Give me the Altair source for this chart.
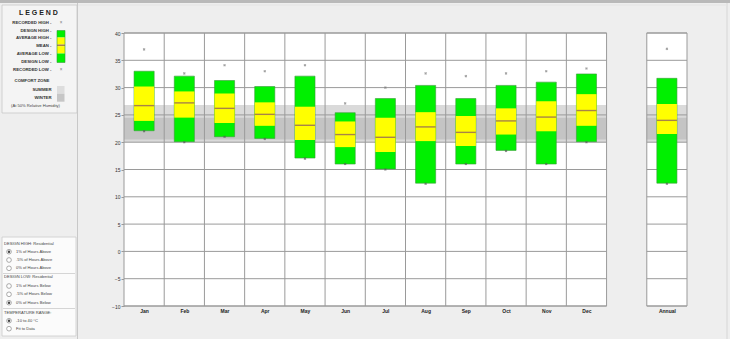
import json
import altair as alt
import pandas as pd

# ---------------- data ----------------
months = ["Jan", "Feb", "Mar", "Apr", "May", "Jun", "Jul", "Aug", "Sep", "Oct", "Nov", "Dec"]
recorded_high = [37.0, 32.6, 34.1, 33.0, 34.1, 27.1, 30.0, 32.6, 32.1, 32.6, 33.0, 33.5]
design_high = [33.0, 32.1, 31.3, 30.2, 32.1, 25.4, 28.0, 30.4, 28.0, 30.4, 31.0, 32.5]
average_high = [30.2, 29.3, 28.9, 27.3, 26.5, 23.8, 24.5, 25.5, 24.8, 26.2, 27.5, 28.8]
mean_temp = [26.7, 27.2, 26.2, 25.1, 23.1, 21.4, 20.9, 22.8, 21.8, 23.9, 24.6, 25.8]
average_low = [23.9, 24.5, 23.5, 23.0, 20.4, 19.1, 18.2, 20.2, 19.3, 21.4, 22.0, 23.0]
design_low = [22.1, 20.1, 21.0, 20.7, 17.1, 16.0, 15.1, 12.5, 16.0, 18.5, 16.0, 20.1]
recorded_low = [22.0, 20.0, 21.0, 20.6, 17.0, 16.0, 15.0, 12.4, 16.0, 18.4, 16.0, 20.0]

annual_label = "Annual"
annual = {"rh": 37.1, "dh": 31.7, "ah": 27.0, "m": 24.0, "al": 21.5, "dl": 12.5, "rl": 12.4}

summer_zone = [20.0, 26.8]
winter_zone = [20.5, 24.5]
y_ticks = [-10, -5, 0, 5, 10, 15, 20, 25, 30, 35, 40]

# ---------------- layout ----------------
L, T = 124, 33          # plot origin in the window
W, H = 563, 273
NCOL = 14               # 12 months, a gap, the annual column
ANN = 13
FONT = "Liberation Sans"
GRID = "#9a9a9a"

xscale = alt.Scale(domain=[0, NCOL], nice=False, zero=False)
yscale = alt.Scale(domain=[-10, 40], nice=False, zero=False)

cols = list(range(12)) + [ANN]
label_list = months + ["", annual_label]
label_expr = json.dumps(label_list) + "[floor(datum.value)]"

X_AX = alt.Axis(values=[c + 0.5 for c in cols], labelExpr=label_expr, title=None,
                ticks=False, domain=False, grid=False, labelFontSize=5,
                labelFontWeight="bold", labelColor="#222", labelFont=FONT,
                labelPadding=2)
Y_AX = alt.Axis(values=y_ticks, title=None, grid=False, domain=False,
                tickSize=3, tickColor=GRID, labelFontSize=5, labelColor="#333",
                labelFont=FONT, labelPadding=1)


def X(f):
    return alt.X(f, scale=xscale, axis=X_AX)


def Y(f):
    return alt.Y(f, scale=yscale, axis=Y_AX)


bars = pd.DataFrame({
    "name": months + [annual_label],
    "col": cols,
    "rh": recorded_high + [annual["rh"]],
    "dh": design_high + [annual["dh"]],
    "ah": average_high + [annual["ah"]],
    "m": mean_temp + [annual["m"]],
    "al": average_low + [annual["al"]],
    "dl": design_low + [annual["dl"]],
    "rl": recorded_low + [annual["rl"]],
})
bars["x0"] = bars["col"] + 0.25
bars["x1"] = bars["col"] + 0.75
bars["xc"] = bars["col"] + 0.5

panels = pd.DataFrame({"x0": [0, ANN], "x1": [12, ANN + 1], "lo": [-10, -10], "hi": [40, 40]})

zones = pd.DataFrame([
    {"x0": p0, "x1": p1, "z0": z[0], "z1": z[1], "c": c, "o": o}
    for (p0, p1) in [(0, 12), (ANN, ANN + 1)]
    for (z, c, o) in [(summer_zone, "#dadada", 0), (winter_zone, "#c4c4c4", 1)]
])

hgrid = pd.DataFrame([{"x0": p0, "x1": p1, "y": v}
                      for (p0, p1) in [(0, 12), (ANN, ANN + 1)] for v in y_ticks])
vgrid = pd.DataFrame({"v": list(range(1, 12)), "lo": -10, "hi": 40})

panel_bg = alt.Chart(panels).mark_rect(fill="white").encode(
    x=X("x0:Q"), x2="x1:Q", y=Y("lo:Q"), y2="hi:Q")

zone_layer = alt.Chart(zones).mark_rect().encode(
    x=X("x0:Q"), x2="x1:Q", y=Y("z0:Q"), y2="z1:Q",
    color=alt.Color("c:N", scale=None), order="o:Q")

hgrid_layer = alt.Chart(hgrid).mark_rule(color=GRID, strokeWidth=1).encode(
    x=X("x0:Q"), x2="x1:Q", y=Y("y:Q"))

vgrid_layer = alt.Chart(vgrid).mark_rule(color=GRID, strokeWidth=1).encode(
    x=X("v:Q"), y=Y("lo:Q"), y2="hi:Q")

border_layer = alt.Chart(panels).mark_rect(fill=None, stroke=GRID, strokeWidth=1).encode(
    x=X("x0:Q"), x2="x1:Q", y=Y("lo:Q"), y2="hi:Q")

green_layer = alt.Chart(bars).mark_rect(fill="#00f000", stroke="#3a9a3a", strokeWidth=0.6).encode(
    x=X("x0:Q"), x2="x1:Q", y=Y("dl:Q"), y2="dh:Q")

yellow_layer = alt.Chart(bars).mark_rect(fill="#ffff00").encode(
    x=X("x0:Q"), x2="x1:Q", y=Y("al:Q"), y2="ah:Q")

mean_layer = alt.Chart(bars).mark_rule(color="#a88447", strokeWidth=1.4).encode(
    x=X("x0:Q"), x2="x1:Q", y=Y("m:Q"))

rh_layer = alt.Chart(bars).mark_point(shape="cross", angle=45, filled=True, size=7, color="#777").encode(
    x=X("xc:Q"), y=Y("rh:Q"))
rl_layer = alt.Chart(bars).mark_point(shape="cross", angle=45, filled=True, size=7, color="#555").encode(
    x=X("xc:Q"), y=Y("rl:Q"))

# ---------------- window chrome (left control panel) ----------------
one = pd.DataFrame({"k": [0]})


def px(v):
    return v - L


def py(v):
    return v - T


def box(x1, y1, x2, y2, fill, stroke=None, sw=0.8):
    kw = dict(fill=fill, strokeWidth=sw)
    if stroke:
        kw["stroke"] = stroke
    return alt.Chart(one).mark_rect(**kw).encode(
        x=alt.value(px(x1)), x2=alt.value(px(x2)), y=alt.value(py(y1)), y2=alt.value(py(y2)))


def hline(x1, x2, y, color="#cfcfcf", sw=1):
    return alt.Chart(one).mark_rule(color=color, strokeWidth=sw).encode(
        x=alt.value(px(x1)), x2=alt.value(px(x2)), y=alt.value(py(y)))


def vline(x, y1, y2, color="#cfcfcf", sw=1):
    return alt.Chart(one).mark_rule(color=color, strokeWidth=sw).encode(
        x=alt.value(px(x)), y=alt.value(py(y1)), y2=alt.value(py(y2)))


def txt(s, xx, yy, size=4.4, align="left", bold=False, color="#333"):
    return alt.Chart(one).mark_text(
        text=s, align=align, baseline="middle", fontSize=size, font=FONT,
        fontWeight="bold" if bold else "normal", color=color).encode(
        x=alt.value(px(xx)), y=alt.value(py(yy)))


def radio(xx, yy, on):
    layers = [alt.Chart(one).mark_point(shape="circle", filled=True, size=22, fill="white",
                                        stroke="#888", strokeWidth=0.7, opacity=1).encode(
        x=alt.value(px(xx)), y=alt.value(py(yy)))]
    if on:
        layers.append(alt.Chart(one).mark_point(shape="circle", filled=True, size=6,
                                                color="#444", opacity=1).encode(
            x=alt.value(px(xx)), y=alt.value(py(yy))))
    return layers


chrome = [
    box(0, 0, 730, 3, "#b9b9b9"),
    vline(727, 3, 339, "#d6d6d6"),
    hline(78, 727, 5, "#e4e4e4"),
    box(2, 5, 77, 113, "#f4f4f4", "#c8c8c8"),
    box(2, 237, 76, 336, "#fbfbfb", "#cccccc"),
    vline(77.5, 3, 339, "#c8c8c8"),
    hline(3, 75, 273.5, "#d5d5d5"),
    hline(3, 75, 308.5, "#d5d5d5"),
    txt("L E G E N D", 38.5, 12.7, size=7, align="center", bold=True, color="#222"),
]
legend_rows = [("RECORDED HIGH -", 23), ("DESIGN HIGH -", 30.5), ("AVERAGE HIGH -", 38),
               ("MEAN -", 46), ("AVERAGE LOW -", 54), ("DESIGN LOW -", 62),
               ("RECORDED LOW -", 70)]
for s, yy in legend_rows:
    chrome.append(txt(s, 51.5, yy, size=4.3, align="right", bold=True, color="#333"))
chrome += [
    box(57, 30.5, 65, 37.5, "#00f000"),
    box(57, 37.5, 65, 44.5, "#ffff00"),
    box(57, 44.5, 65, 46.2, "#a88447"),
    box(57, 46.2, 65, 53.5, "#ffff00"),
    box(57, 53.5, 65, 62.5, "#00f000"),
    box(57, 30.5, 65, 62.5, None, "#3a9a3a", 0.6),
    txt("×", 61, 23, size=4.5, align="center", color="#777"),
    txt("×", 61, 70, size=4.5, align="center", color="#777"),
    txt("COMFORT ZONE", 32, 81.3, size=4.3, align="center", bold=True),
    txt("SUMMER", 51.5, 89.7, size=4.3, align="right", bold=True),
    txt("WINTER", 51.5, 97.7, size=4.3, align="right", bold=True),
    box(57, 86, 64.5, 93.7, "#dddddd"),
    box(57, 93.7, 64.5, 101.7, "#c6c6c6"),
    txt("(At 50% Relative Humidity)", 35.5, 106.3, size=4.1, align="center", color="#444"),
    txt("DESIGN HIGH:  Residential", 4, 243.7, size=4.1, color="#444"),
    txt("DESIGN LOW:  Residential", 4, 276.7, size=4.1, color="#444"),
    txt("TEMPERATURE RANGE:", 4, 313.3, size=4.1, color="#444"),
]
radio_rows = [("1% of Hours Above", 251.7, True), (".5% of Hours Above", 260, False),
              ("0% of Hours Above", 268.3, False), ("1% of Hours Below", 286, False),
              (".5% of Hours Below", 294.3, False), ("0% of Hours Below", 302.7, True),
              ("-10 to 40 °C", 320.7, True), ("Fit to Data", 328.7, False)]
for s, yy, on in radio_rows:
    chrome += radio(9, yy, on)
    chrome.append(txt(s, 16, yy, size=4.1, color="#444"))

chart = alt.layer(
    panel_bg, zone_layer, hgrid_layer, vgrid_layer, border_layer,
    green_layer, yellow_layer, mean_layer, rh_layer, rl_layer,
    *chrome
).properties(
    width=W, height=H,
    padding={"left": L, "top": T, "right": 730 - L - W, "bottom": 339 - T - H},
    autosize=alt.AutoSizeParams(type="none"),
    background="#eeeeee",
).configure_view(strokeWidth=0)

chart.save("out.html", embed_options={"renderer": "svg", "actions": False})
